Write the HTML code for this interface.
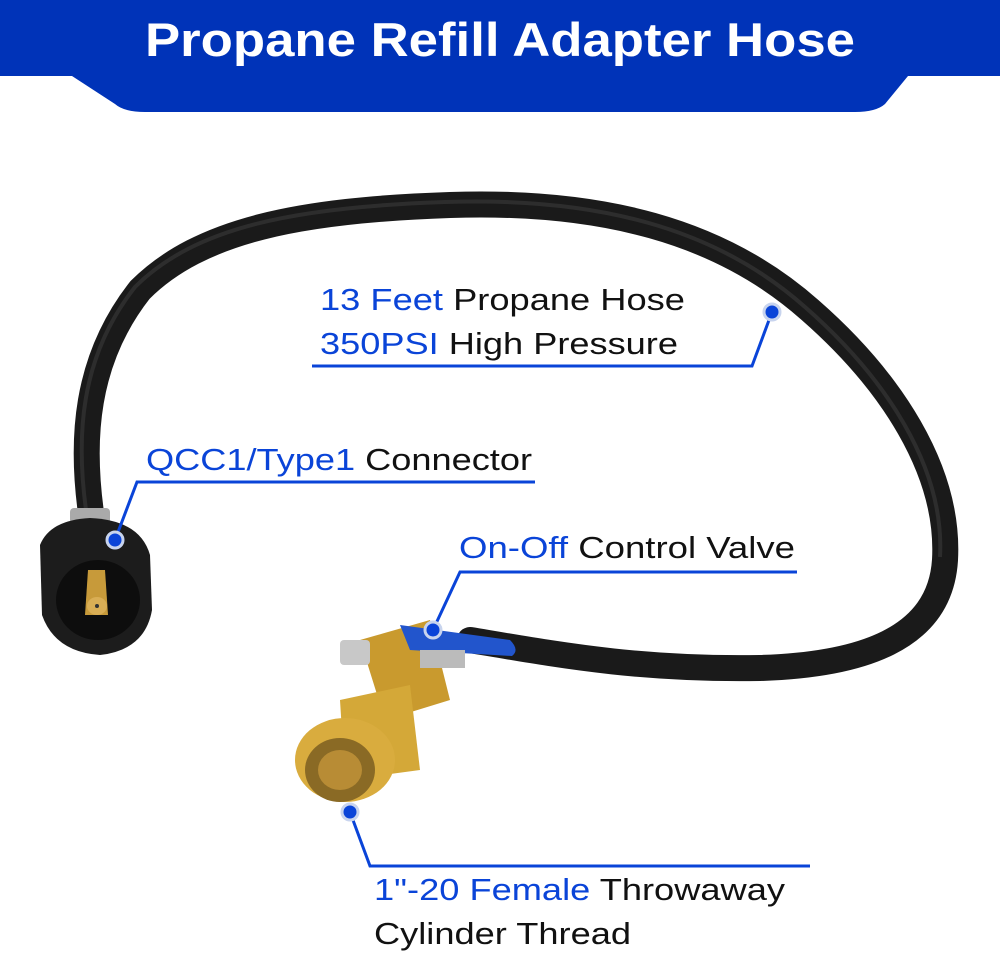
<!DOCTYPE html>
<html><head><meta charset="utf-8"><style>
html,body{margin:0;padding:0;background:#fff;}
svg{display:block;}
text{font-family:"Liberation Sans",sans-serif;}
</style></head><body>
<svg width="1000" height="954" viewBox="0 0 1000 954">
<rect width="1000" height="954" fill="#fff"/>
<!-- header -->
<path d="M0 0H1000V76H908L885 104Q876 112 855 112H145Q124 112 115 104L72 76H0Z" fill="#0033b8"/>
<text x="145" y="56" textLength="710" lengthAdjust="spacingAndGlyphs" font-size="47" font-weight="bold" fill="#fff">Propane Refill Adapter Hose</text>
<!-- hose -->
<path d="M92 520 C80 440 85 360 140 290 C200 230 300 210 450 205 C600 200 720 230 810 310 C890 380 950 470 945 560 C940 640 860 665 760 668 C640 670 560 655 470 640" fill="none" stroke="#1a1a1a" stroke-width="26" stroke-linecap="round"/>
<path d="M92 520 C80 440 85 360 140 290 C200 230 300 210 450 205 C600 200 720 230 810 310 C890 380 950 470 945 560" fill="none" stroke="#3a3a3a" stroke-width="4" transform="translate(-5,-3)" opacity="0.6"/>
<!-- QCC1 connector -->
<rect x="70" y="508" width="40" height="16" rx="4" fill="#aaa"/>
<path d="M40 545 Q50 520 90 518 Q140 520 150 555 L152 610 Q145 650 100 655 Q55 652 42 615 Z" fill="#1c1c1c"/>
<ellipse cx="98" cy="600" rx="42" ry="40" fill="#0d0d0d"/>
<path d="M88 570 L105 570 L108 615 L85 615 Z" fill="#c79a3a"/>
<ellipse cx="97" cy="606" rx="10" ry="9" fill="#d9ae55"/>
<circle cx="97" cy="606" r="2" fill="#333"/>
<!-- valve -->
<path d="M360 640 L430 620 L450 700 L385 720 Z" fill="#c99a2e"/>
<path d="M340 700 L410 685 L420 770 L345 780 Z" fill="#d4a838"/>
<ellipse cx="345" cy="760" rx="50" ry="42" fill="#d9ac3e"/>
<ellipse cx="340" cy="770" rx="35" ry="32" fill="#8a6a25"/>
<ellipse cx="340" cy="770" rx="22" ry="20" fill="#b88c35"/>
<rect x="340" y="640" width="30" height="25" rx="4" fill="#c8c8c8"/>
<path d="M400 625 L510 640 Q520 650 512 656 L410 650 Z" fill="#2255cc"/>
<rect x="420" y="650" width="45" height="18" fill="#bbb"/>
<!-- callouts -->
<g fill="none" stroke="#0a44d8" stroke-width="3">
<path d="M312 366H752L772 312"/>
<path d="M535 482H137L115 540"/>
<path d="M797 572H460L433 630"/>
<path d="M810 866H370L350 812"/>
</g>
<g fill="#0a44d8" stroke="#c8d4ee" stroke-width="3">
<circle cx="772" cy="312" r="8"/>
<circle cx="115" cy="540" r="8"/>
<circle cx="433" cy="630" r="8"/>
<circle cx="350" cy="812" r="8"/>
</g>
<g font-size="31" fill="#111" lengthAdjust="spacingAndGlyphs">
<text x="320" y="310" textLength="365" lengthAdjust="spacingAndGlyphs"><tspan fill="#0a44d8">13 Feet</tspan> Propane Hose</text>
<text x="320" y="354" textLength="358" lengthAdjust="spacingAndGlyphs"><tspan fill="#0a44d8">350PSI</tspan> High Pressure</text>
<text x="146" y="470" textLength="386" lengthAdjust="spacingAndGlyphs"><tspan fill="#0a44d8">QCC1/Type1</tspan> Connector</text>
<text x="459" y="558" textLength="336" lengthAdjust="spacingAndGlyphs"><tspan fill="#0a44d8">On-Off</tspan> Control Valve</text>
<text x="374" y="900" textLength="411" lengthAdjust="spacingAndGlyphs"><tspan fill="#0a44d8">1"-20 Female</tspan> Throwaway</text>
<text x="374" y="944" textLength="257" lengthAdjust="spacingAndGlyphs">Cylinder Thread</text>
</g>
</svg>
</body></html>
